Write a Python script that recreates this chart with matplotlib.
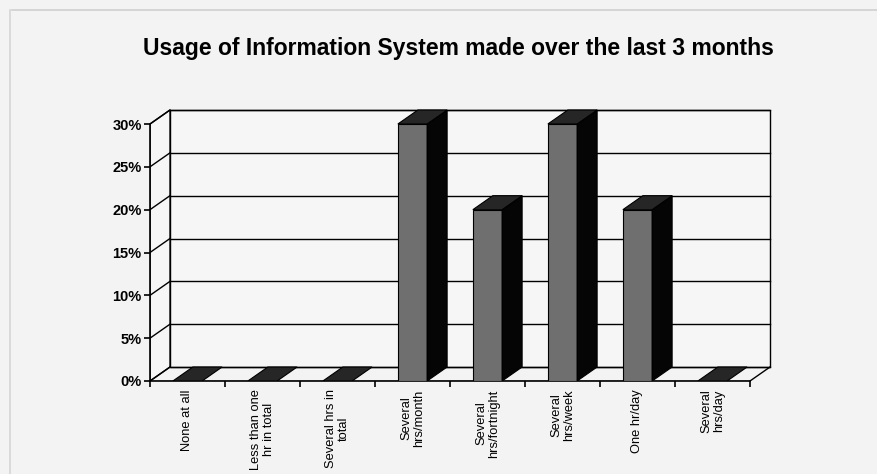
import matplotlib.pyplot as plt
from matplotlib.patches import Polygon

categories = ['None at all', 'Less than one\nhr in total', 'Several hrs in\ntotal',
              'Several\nhrs/month', 'Several\nhrs/fortnight', 'Several\nhrs/week',
              'One hr/day', 'Several\nhrs/day']
values = [0, 0, 0, 30, 20, 30, 20, 0]
yticks = [0, 5, 10, 15, 20, 25, 30]
title = 'Usage of Information System made over the last 3 months'

plt.rcParams['font.family'] = ['Liberation Sans', 'DejaVu Sans']

fig = plt.figure(figsize=(8.78, 4.74), dpi=100)
fig.patch.set_facecolor('#f3f3f3')

# frame of the scanned page
fig.add_artist(plt.Line2D([12/878, 1], [1 - 10/474] * 2, color='#cfcfcf', lw=1.2))
fig.add_artist(plt.Line2D([10/878] * 2, [0, 1 - 10/474], color='#d6d6d6', lw=1.2))

# axes placed so the front floor runs 150..750 px and 0-30% runs 381..124 px
n = len(categories)
ax = fig.add_axes([150/878, (474-381)/474, 630/878, 281/474])
ax.set_xlim(0, 630/75)
ax.set_ylim(0, 281/257*30)
ax.set_facecolor('none')

dx = 20/75            # depth offset, category units
dy = 14/257*30        # depth offset, percent units
top = yticks[-1]
k = dict(color='black', lw=1.0)

# walls
ax.add_patch(Polygon([(dx, dy), (n+dx, dy), (n+dx, top+dy), (dx, top+dy)],
                     closed=True, fc='#f6f6f6', ec='black', lw=1.0, zorder=1))
ax.add_patch(Polygon([(0, 0), (dx, dy), (dx, top+dy), (0, top)],
                     closed=True, fc='#f6f6f6', ec='black', lw=1.0, zorder=1))
for v in yticks:
    ax.plot([0, dx], [v, v+dy], zorder=2, **k)
    ax.plot([dx, n+dx], [v+dy, v+dy], zorder=2, **k)
ax.plot([n, n+dx], [0, dy], zorder=2, **k)
ax.plot([0, n], [0, 0], zorder=2, **k)

# bars
w = 0.39
for i, v in enumerate(values):
    x0 = i + 0.5 - w/2
    x1 = i + 0.5 + w/2
    if v > 0:
        ax.add_patch(Polygon([(x0, 0), (x1, 0), (x1, v), (x0, v)], closed=True,
                             fc='#6f6f6f', ec='black', lw=0.8, zorder=4))
        ax.add_patch(Polygon([(x1, 0), (x1+dx, dy), (x1+dx, v+dy), (x1, v)], closed=True,
                             fc='#050505', ec='black', lw=0.8, zorder=4))
    ax.add_patch(Polygon([(x0, v), (x1, v), (x1+dx, v+dy), (x0+dx, v+dy)], closed=True,
                         fc='#262626', ec='black', lw=0.8, zorder=4))

for s in ['top', 'right']:
    ax.spines[s].set_visible(False)
ax.spines['left'].set_bounds(0, top)
ax.spines['bottom'].set_bounds(0, n)
ax.spines['left'].set_linewidth(1.2)
ax.spines['bottom'].set_linewidth(1.2)

ax.set_yticks(yticks)
ax.set_yticklabels([f'{v}%' for v in yticks], fontsize=10.5, fontweight='bold')
ax.set_xticks(range(n + 1))
ax.set_xticklabels([])
ax.set_xticks([i + 0.5 for i in range(n)], minor=True)
ax.set_xticklabels(categories, minor=True, rotation=90, fontsize=9.3, va='top',
                   ha='center', multialignment='center', linespacing=1.1)
ax.tick_params(axis='y', length=4, width=1.2, pad=2)
ax.tick_params(axis='x', which='major', length=4, width=1.2)
ax.tick_params(axis='x', which='minor', length=0, pad=6)

fig.text(458/878, 1 - 49/474, title, ha='center', va='center',
         fontsize=16.5, fontweight='bold')

fig.savefig('out.png', dpi=100, facecolor=fig.get_facecolor())
